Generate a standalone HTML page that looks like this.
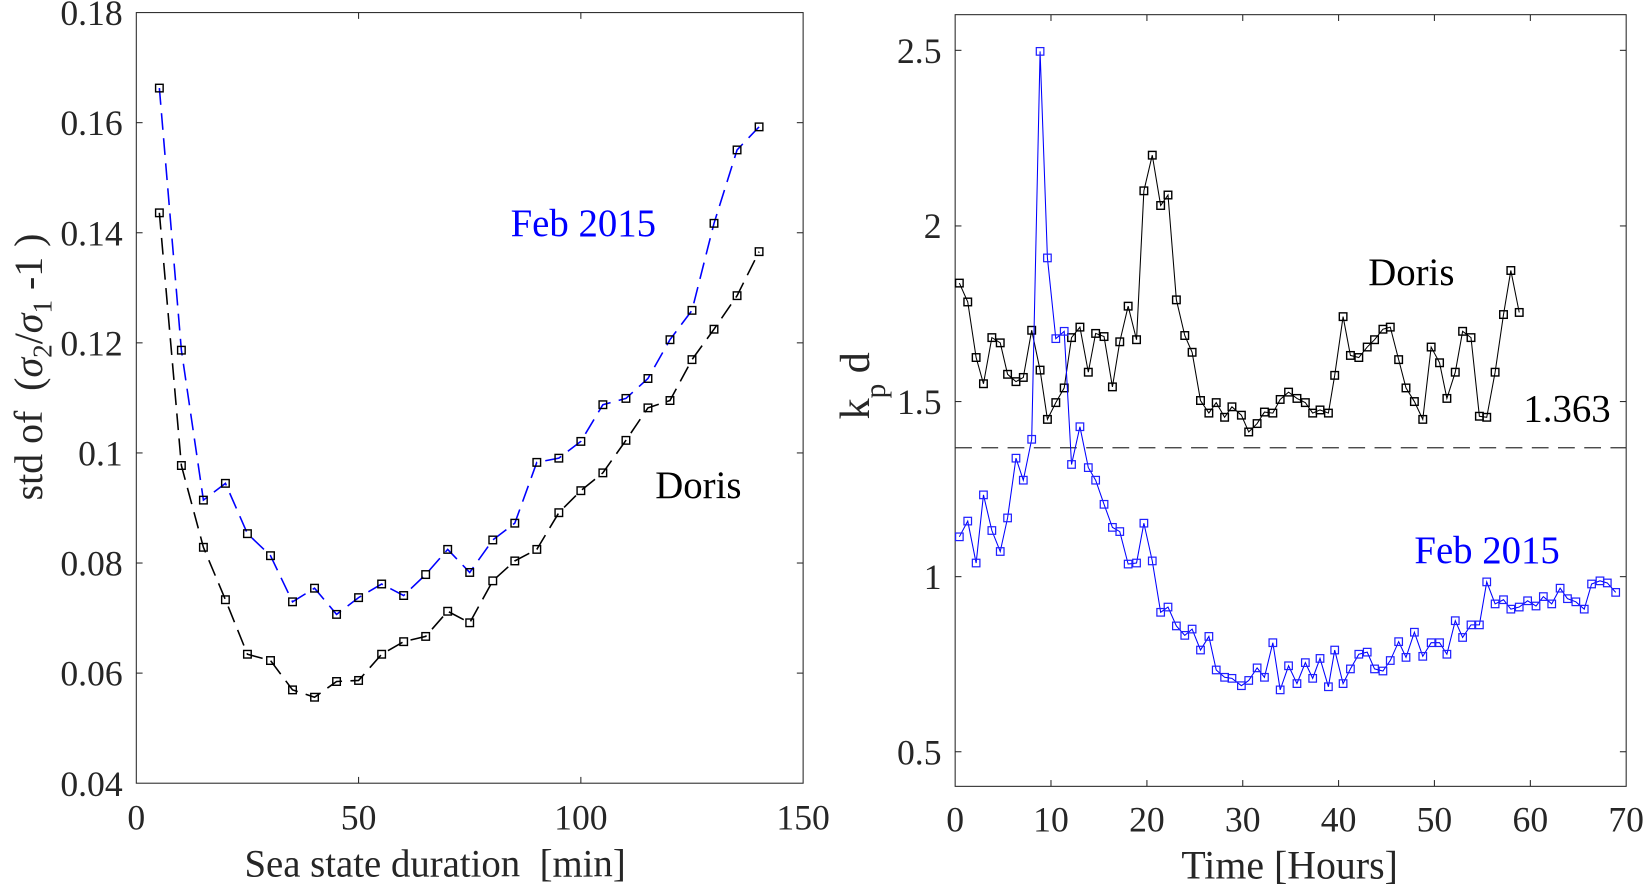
<!DOCTYPE html>
<html><head><meta charset="utf-8"><style>
html,body{margin:0;padding:0;background:#fff;}
svg{display:block;}
text{font-family:"Liberation Serif",serif;fill:#262626;}
</style></head><body>
<svg width="1644" height="887" viewBox="0 0 1568 846" preserveAspectRatio="none" xmlns="http://www.w3.org/2000/svg">
<defs>
<marker id="mk" viewBox="-5 -5 10 10" markerWidth="9" markerHeight="9" markerUnits="userSpaceOnUse" refX="0" refY="0"><rect x="-4" y="-4" width="8" height="8" fill="none" stroke="#000" stroke-width="1.5"/></marker>
<marker id="mb" viewBox="-5 -5 10 10" markerWidth="9" markerHeight="9" markerUnits="userSpaceOnUse" refX="0" refY="0"><rect x="-4" y="-4" width="8" height="8" fill="none" stroke="#2020ff" stroke-width="1.3"/></marker>
</defs>
<!-- LEFT AXES -->
<rect x="130" y="12" width="636" height="735" fill="none" stroke="#262626" stroke-width="1"/>
<g stroke="#262626" stroke-width="1">
<line x1="342" y1="747" x2="342" y2="741"/><line x1="554" y1="747" x2="554" y2="741"/>
<line x1="342" y1="12" x2="342" y2="18"/><line x1="554" y1="12" x2="554" y2="18"/>
<line x1="130" y1="117" x2="136" y2="117"/><line x1="130" y1="222" x2="136" y2="222"/><line x1="130" y1="327" x2="136" y2="327"/><line x1="130" y1="432" x2="136" y2="432"/><line x1="130" y1="537" x2="136" y2="537"/><line x1="130" y1="642" x2="136" y2="642"/>
<line x1="766" y1="117" x2="760" y2="117"/><line x1="766" y1="222" x2="760" y2="222"/><line x1="766" y1="327" x2="760" y2="327"/><line x1="766" y1="432" x2="760" y2="432"/><line x1="766" y1="537" x2="760" y2="537"/><line x1="766" y1="642" x2="760" y2="642"/>
</g>
<g font-size="34" text-anchor="end">
<text x="117" y="24">0.18</text><text x="117" y="129">0.16</text><text x="117" y="234">0.14</text><text x="117" y="339">0.12</text><text x="117" y="444">0.1</text><text x="117" y="549">0.08</text><text x="117" y="654">0.06</text><text x="117" y="759">0.04</text>
</g>
<g font-size="34" text-anchor="middle">
<text x="130" y="791">0</text><text x="342" y="791">50</text><text x="554" y="791">100</text><text x="766" y="791">150</text>
<text x="415" y="836" font-size="37" xml:space="preserve">Sea state duration  [min]</text>
</g>
<text font-size="38" transform="translate(40,350) rotate(-90)" text-anchor="middle" xml:space="preserve">std of  (<tspan font-style="italic">σ</tspan><tspan font-size="26" dy="9">2</tspan><tspan dy="-9">/</tspan><tspan font-style="italic">σ</tspan><tspan font-size="26" dy="9">1</tspan><tspan dy="-9"> -1 )</tspan></text>
<polyline fill="none" stroke="#0000ff" stroke-width="1.5" stroke-dasharray="16,8" marker-start="url(#mk)" marker-mid="url(#mk)" marker-end="url(#mk)" points="152,84 173,334 194,477 215,461 236,509 258,530 279,574 300,561 321,586 342,570 364,557 385,568 406,548 427,524 448,546 470,515 491,499 512,441 533,437 554,421 575,386 597,380 618,361 639,324 660,296 681,213 703,143 724,121"/>
<polyline fill="none" stroke="#000" stroke-width="1.5" stroke-dasharray="16,8" marker-start="url(#mk)" marker-mid="url(#mk)" marker-end="url(#mk)" points="152,203 173,444 194,522 215,572 236,624 258,630 279,658 300,665 321,650 342,649 364,624 385,612 406,607 427,583 448,594 470,554 491,535 512,524 533,489 554,468 575,451 597,420 618,389 639,382 660,343 681,314 703,282 724,240"/>
<text x="487" y="225" font-size="37" style="fill:#0000ff">Feb 2015</text>
<text x="625" y="475" font-size="37" style="fill:#000">Doris</text>

<!-- RIGHT AXES -->
<rect x="911" y="14" width="640" height="736" fill="none" stroke="#262626" stroke-width="1"/>
<g stroke="#262626" stroke-width="1">
<line x1="1002.4" y1="750" x2="1002.4" y2="744"/><line x1="1093.9" y1="750" x2="1093.9" y2="744"/><line x1="1185.3" y1="750" x2="1185.3" y2="744"/><line x1="1276.7" y1="750" x2="1276.7" y2="744"/><line x1="1368.1" y1="750" x2="1368.1" y2="744"/><line x1="1459.6" y1="750" x2="1459.6" y2="744"/>
<line x1="1002.4" y1="14" x2="1002.4" y2="20"/><line x1="1093.9" y1="14" x2="1093.9" y2="20"/><line x1="1185.3" y1="14" x2="1185.3" y2="20"/><line x1="1276.7" y1="14" x2="1276.7" y2="20"/><line x1="1368.1" y1="14" x2="1368.1" y2="20"/><line x1="1459.6" y1="14" x2="1459.6" y2="20"/>
<line x1="911" y1="717" x2="917" y2="717"/><line x1="911" y1="550" x2="917" y2="550"/><line x1="911" y1="383" x2="917" y2="383"/><line x1="911" y1="215.5" x2="917" y2="215.5"/><line x1="911" y1="48" x2="917" y2="48"/>
<line x1="1551" y1="717" x2="1545" y2="717"/><line x1="1551" y1="550" x2="1545" y2="550"/><line x1="1551" y1="383" x2="1545" y2="383"/><line x1="1551" y1="215.5" x2="1545" y2="215.5"/><line x1="1551" y1="48" x2="1545" y2="48"/>
</g>
<g font-size="34" text-anchor="end">
<text x="898" y="729">0.5</text><text x="898" y="562">1</text><text x="898" y="395">1.5</text><text x="898" y="227">2</text><text x="898" y="60">2.5</text>
</g>
<g font-size="34" text-anchor="middle">
<text x="911" y="793">0</text><text x="1002.4" y="793">10</text><text x="1093.9" y="793">20</text><text x="1185.3" y="793">30</text><text x="1276.7" y="793">40</text><text x="1368.1" y="793">50</text><text x="1459.6" y="793">60</text><text x="1551" y="793">70</text>
<text x="1230" y="838" font-size="38">Time [Hours]</text>
</g>
<text font-size="40" transform="translate(829,368) rotate(-90)" text-anchor="middle">k<tspan font-size="28" dy="15">p</tspan><tspan dy="-15"> d</tspan></text>
<line x1="911" y1="427" x2="1551" y2="427" stroke="#333" stroke-width="1.2" stroke-dasharray="16,9"/>
<polyline fill="none" stroke="#000" stroke-width="1" marker-start="url(#mk)" marker-mid="url(#mk)" marker-end="url(#mk)" points="915,270 923,288 931,341 938,366 946,322 954,327 961,357 969,364 976,360 984,315 992,353 999,400 1007,384 1015,370 1022,322 1030,312 1038,355 1045,318 1053,321 1061,369 1068,326 1076,292 1084,324 1091,182 1099,148 1107,196 1114,186 1122,286 1130,320 1137,336 1145,382 1153,394 1160,384 1168,398 1175,388 1184,396 1191,412 1199,404 1206,393 1214,394 1221,381 1229,374 1237,380 1245,384 1252,394 1259,391 1267,394 1273,358 1281,302 1288,339 1296,341 1304,331 1311,324 1319,314 1326,312 1334,343 1341,370 1349,383 1357,400 1365,331 1373,346 1380,380 1388,355 1395,316 1403,322 1411,397 1418,398 1426,355 1434,300 1441,258 1449,298"/>
<polyline fill="none" stroke="#0000ff" stroke-width="1" marker-start="url(#mb)" marker-mid="url(#mb)" marker-end="url(#mb)" points="915,512 923,497 931,537 938,472 946,506 954,526 961,494 969,437 976,458 984,419 992,49 999,246 1007,323 1015,316 1022,443 1030,407 1038,446 1045,458 1053,481 1061,503 1068,507 1076,538 1084,537 1091,499 1099,535 1107,584 1114,579 1122,597 1130,606 1137,600 1145,620 1153,607 1160,639 1168,646 1175,647 1184,654 1191,649 1199,637 1206,646 1214,613 1221,658 1229,635 1237,652 1245,632 1252,647 1259,628 1267,655 1273,620 1281,652 1288,638 1296,624 1304,622 1311,638 1319,640 1326,630 1334,612 1341,627 1349,603 1357,626 1365,613 1373,613 1380,624 1388,592 1395,608 1403,596 1411,596 1418,555 1426,576 1434,572 1441,581 1449,579 1457,573 1465,578 1472,569 1480,576 1488,561 1495,571 1503,574 1511,581 1518,557 1526,554 1533,556 1541,565"/>
<text x="1305" y="272" font-size="37" style="fill:#000">Doris</text>
<text x="1453" y="402" font-size="37" style="fill:#000">1.363</text>
<text x="1349" y="537" font-size="37" style="fill:#0000ff">Feb 2015</text>
</svg>
</body></html>
